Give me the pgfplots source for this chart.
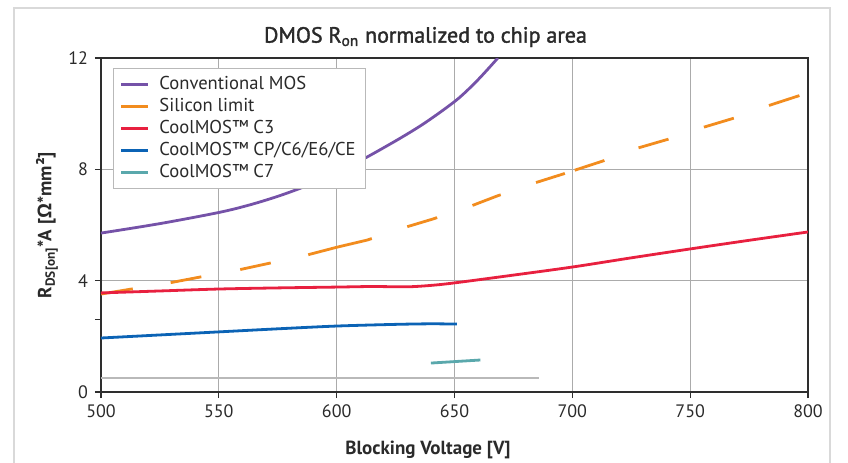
\documentclass[border=0pt]{standalone}
\usepackage{fontspec}
\setmainfont{PT Sans}
\newfontfamily\symfont{Open Sans}
\newfontfamily\titlefont{PT Sans}[FakeBold=1.6]
\usepackage{pgfplots}
\pgfplotsset{compat=1.18}
\definecolor{cpurple}{HTML}{7552A8}
\definecolor{corange}{HTML}{F28C1E}
\definecolor{cred}{HTML}{E8203F}
\definecolor{cblue}{HTML}{0B63B5}
\definecolor{cteal}{HTML}{5AA8AC}
\definecolor{gridgray}{HTML}{ABABAB}
\definecolor{axisdark}{HTML}{2E2E2E}
\definecolor{txt}{HTML}{2A2A2A}
\begin{document}
\begin{tikzpicture}
\path[use as bounding box] (-50.5pt,-35pt) rectangle (373.5pt,196pt);
\draw[gray!30, line width=0.6pt] (-43.5pt,-40pt) -- (-43.5pt,192pt) -- (364.5pt,192pt) -- (364.5pt,-40pt);
\begin{axis}[
  at={(0,0)}, anchor=south west,
  scale only axis, width=353.5pt, height=167pt,
  xmin=500, xmax=800, ymin=0, ymax=12,
  xtick={500,550,...,800}, ytick={0,4,8,12},
  extra y ticks={2.6}, extra y tick labels={}, extra y tick style={grid=none},
  xtick pos=bottom, ytick pos=left, tick align=outside,
  major tick length=3pt,
  grid=major, major grid style={gridgray, line width=0.6pt},
  axis line style={axisdark, line width=0.9pt},
  tick style={axisdark, line width=0.6pt},
  /pgf/number format/assume math mode=true,
  /pgf/number format/1000 sep={},
  tick label style={font=\fontsize{9}{10}\selectfont, text=txt},
  title={DMOS R\textsubscript{on} normalized to chip area},
  title style={at={(axis description cs:0.459,1)}, anchor=center, yshift=4.5pt, font=\titlefont\fontsize{11}{13}\selectfont, text=txt},
  xlabel={Blocking Voltage [V]},
  xlabel style={at={(axis description cs:0.4625,0)}, anchor=center, yshift=-29pt, font=\bfseries\fontsize{9.5}{11}\selectfont, text=txt},
  ylabel={R\textsubscript{DS[on]}*A [{\symfont Ω}*mm²]},
  ylabel style={at={(axis description cs:-0.0764,0.5)}, anchor=center, rotate=0, font=\bfseries\fontsize{9.5}{11}\selectfont, text=txt},
  legend style={at={(axis description cs:0.017,0.97)}, anchor=north west,
    draw=gray!55, line width=0.6pt, font=\fontsize{9.3}{10}\selectfont, text=txt,
    row sep=-1.2pt, inner xsep=3pt, inner ysep=2pt, cells={anchor=west}},
  legend image code/.code={\draw[#1, solid] (0pt,0pt) -- (13.5pt,0pt); \path (16.5pt,0pt);},
]
\addplot[gray!55, line width=0.9pt, forget plot] coordinates {(500,0.5) (686,0.5)};
\addplot[cpurple, line width=1.4pt, smooth] coordinates {
(500,5.71) (525,6.05) (550,6.45) (563,6.72) (575,7.03) (587,7.40) (600,7.88) (612,8.40)
(627,9.12) (638,9.70) (651,10.50) (660,11.22) (668.4,12.0)};
\addlegendentry{Conventional MOS}
\addplot[corange, line width=1.4pt, dash pattern=on 16.1pt off 19.2pt on 15.6pt off 19.8pt on 15.6pt off 19.2pt on 32.8pt off 18.7pt on 15.6pt off 18.7pt on 15.1pt off 18.7pt on 15.1pt off 5.2pt on 15.6pt off 18.2pt on 15.6pt off 18.7pt on 15.6pt off 18.7pt on 16pt off 20pt] coordinates {
(500,3.52) (513,3.70) (529,3.92) (542,4.13) (558,4.38) (570,4.60) (586,4.89)
(600,5.20) (613,5.46) (628,5.89) (641,6.22) (656,6.65) (668,7.04) (684,7.51)
(696,7.83) (713,8.30) (728,8.77) (741,9.09) (756,9.52) (769,9.85) (784,10.31) (800,10.75)};
\addlegendentry{Silicon limit}
\addplot[cred, line width=1.4pt, smooth] coordinates {
(500,3.56) (525,3.63) (550,3.70) (575,3.74) (600,3.77) (615,3.79) (630,3.78)
(640,3.83) (650,3.92) (675,4.20) (700,4.49) (725,4.82) (750,5.14) (775,5.45) (800,5.75)};
\addlegendentry{CoolMOS™ C3}
\addplot[cblue, line width=1.4pt, smooth] coordinates {
(500,1.94) (525,2.05) (550,2.16) (575,2.27) (600,2.37) (625,2.43) (640,2.45) (651,2.44)};
\addlegendentry{CoolMOS™ CP/C6/E6/CE}
\addplot[cteal, line width=1.4pt] coordinates {(640,1.04) (661,1.15)};
\addlegendentry{CoolMOS™ C7}
\end{axis}
\end{tikzpicture}
\end{document}
